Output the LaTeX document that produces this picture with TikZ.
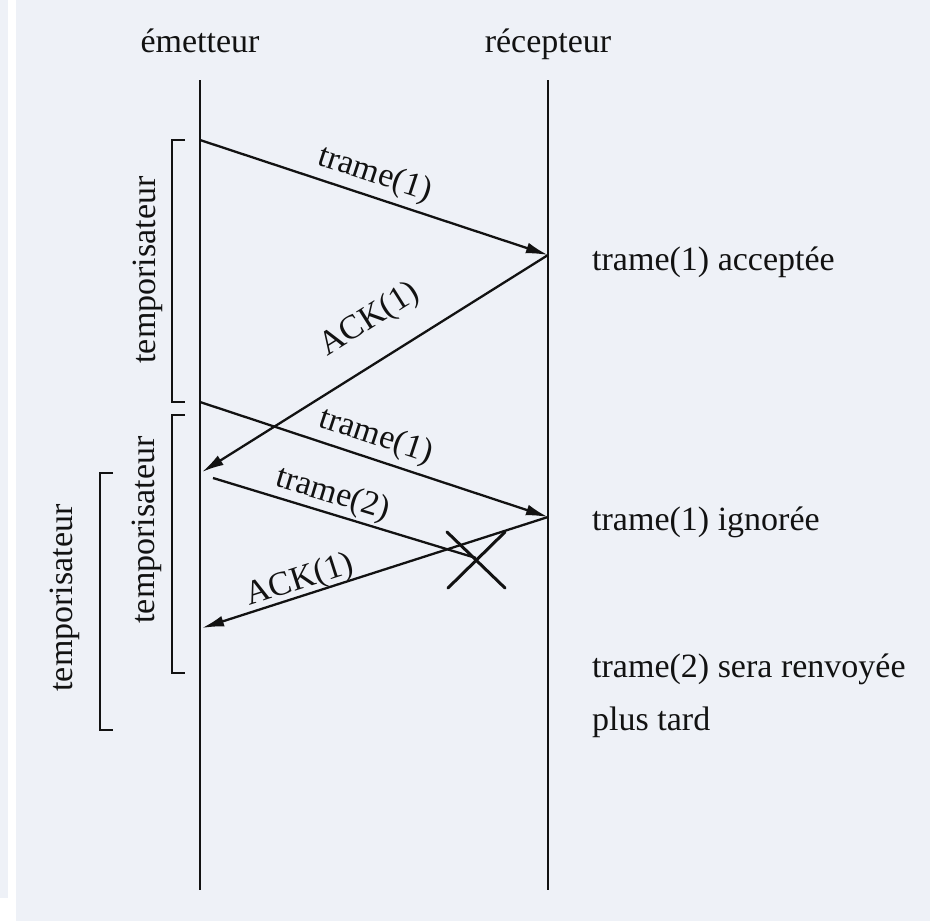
\documentclass[tikz,border=0pt]{standalone}
\usepackage{fontspec}
\setmainfont{Liberation Serif}
\usetikzlibrary{arrows.meta}
\definecolor{paper}{RGB}{238,241,247}
\definecolor{ink}{RGB}{18,18,18}
\begin{document}
\begin{tikzpicture}[x=1pt,y=-1pt,
  lifeline/.style={line width=2pt, draw=ink},
  msg/.style={line width=2.3pt, draw=ink, -{Latex[length=22pt,width=11pt]}},
  lostmsg/.style={line width=2.3pt, draw=ink},
  lbl/.style={font=\fontsize{34}{40}\selectfont, text=ink, inner sep=0pt},
  timer/.style={line width=2.5pt, draw=ink},
  cross/.style={line width=3pt, draw=ink, line cap=round}]
% paper and scan margin
\fill[paper] (0,0) rectangle (930,921);
\fill[white] (8,0) rectangle (16,898);
\fill[white] (0,898) rectangle (16,921);
\useasboundingbox (0,0) rectangle (930,921);

% actors and lifelines
\node[lbl, anchor=base] (em) at (200,52) {émetteur};
\node[lbl, anchor=base] (rc) at (548,52) {récepteur};
\coordinate (eT) at (200,80);  \coordinate (eB) at (200,890);
\coordinate (rT) at (548,80);  \coordinate (rB) at (548,890);
\draw[lifeline] (eT) -- (eB);
\draw[lifeline] (rT) -- (rB);

% message end points
\coordinate (s1) at (200,140);  \coordinate (r1) at (548,255);
\coordinate (k1) at (202,472);
\coordinate (s2) at (200,402);  \coordinate (r2) at (548,517);
\coordinate (s3) at (213,478);  \coordinate (lost) at (476,558);
\coordinate (k2) at (202,628);

% messages
\draw[msg] (s1) -- (r1);
\draw[msg] (r1) -- (k1);
\draw[msg] (s2) -- (r2);
\draw[lostmsg] (s3) -- (lost);
\draw[msg] (r2) -- (k2);

% loss mark
\coordinate (x1) at (447,532); \coordinate (x2) at (505,588);
\coordinate (x3) at (448,588); \coordinate (x4) at (505,532);
\draw[cross] (x1) -- (x2);
\draw[cross] (x3) -- (x4);

% message labels
\node[lbl, rotate=-18.3] (m1) at (375,175) {trame(1)};
\node[lbl, rotate=32.2]  (m2) at (370,320) {ACK(1)};
\node[lbl, rotate=-18.3] (m3) at (376,437) {trame(1)};
\node[lbl, rotate=-16.9] (m4) at (333,495) {trame(2)};
\node[lbl, rotate=17.8]  (m5) at (300,581) {ACK(1)};

% timers
\coordinate (t1a) at (185,140); \coordinate (t1b) at (172,140);
\coordinate (t1c) at (172,402); \coordinate (t1d) at (185,402);
\draw[timer] (t1a) -- (t1b) -- (t1c) -- (t1d);
\node[lbl, rotate=90] (tl1) at (148,270) {temporisateur};

\coordinate (t2a) at (185,415); \coordinate (t2b) at (172,415);
\coordinate (t2c) at (172,673); \coordinate (t2d) at (185,673);
\draw[timer] (t2a) -- (t2b) -- (t2c) -- (t2d);
\node[lbl, rotate=90] (tl2) at (147,530) {temporisateur};

\coordinate (t3a) at (113,473); \coordinate (t3b) at (100,473);
\coordinate (t3c) at (100,730); \coordinate (t3d) at (113,730);
\draw[timer] (t3a) -- (t3b) -- (t3c) -- (t3d);
\node[lbl, rotate=90] (tl3) at (65,598) {temporisateur};

% receiver notes
\node[lbl, anchor=base west] (n1) at (592,270) {trame(1) acceptée};
\node[lbl, anchor=base west] (n2) at (592,530) {trame(1) ignorée};
\node[lbl, anchor=base west] (n3) at (592,677) {trame(2) sera renvoyée};
\node[lbl, anchor=base west] (n4) at (592,730) {plus tard};
\end{tikzpicture}
\end{document}
